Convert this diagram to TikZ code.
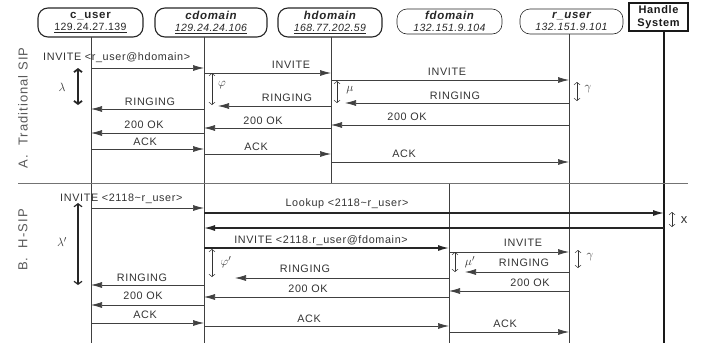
\documentclass[tikz,border=0pt]{standalone}
\usepackage{fontspec}
\setmainfont{Liberation Sans}
\newfontfamily\labfont[LetterSpace=6]{Liberation Sans}
\newfontfamily\ipfont[LetterSpace=4]{Liberation Sans}
\newfontfamily\hdrfont[LetterSpace=6]{Liberation Sans}
\newfontfamily\sectfont[LetterSpace=8]{Liberation Sans}
\usetikzlibrary{arrows.meta}
\begin{document}
\begin{tikzpicture}[x=1pt,y=-1pt,
  hdr/.style={draw=black!85, rounded corners=10pt, line width=1.1pt, align=center, inner sep=0pt,
     font=\fontsize{11}{12.5}\selectfont, text=black!85},
  hdrthin/.style={hdr, line width=0.6pt},
  hsbox/.style={draw=black!90, line width=1.3pt, align=center, inner sep=0pt,
     font=\hdrfont\fontsize{11}{12.5}\selectfont\bfseries, text=black!90},
  life/.style={draw=black!75, line width=0.6pt},
  lifebold/.style={draw=black!90, line width=1.3pt},
  msg/.style={draw=black!75, line width=0.7pt, -{Latex[length=11pt,width=6pt]}},
  bmsg/.style={draw=black!85, line width=1.3pt, -{Latex[length=11pt,width=6pt]}},
  lab/.style={font=\labfont\fontsize{10.8}{12}\selectfont, text=black!80, inner sep=0pt},
  sect/.style={font=\sectfont\fontsize{13}{15}\selectfont, text=black!65, inner sep=0pt, rotate=90},
  dbl/.style={draw=black!80, line width=0.5pt, {Straight Barb[length=2.5pt,width=6pt]}-{Straight Barb[length=2.5pt,width=6pt]}},
  bigdbl/.style={draw=black!85, line width=1.8pt, {Straight Barb[length=3pt,width=8pt]}-{Straight Barb[length=3pt,width=8pt]}},
  meddbl/.style={draw=black!85, line width=1.2pt, {Straight Barb[length=3pt,width=8pt]}-{Straight Barb[length=3pt,width=8pt]}},
  sym/.style={inner sep=0pt, text=black!80, font=\fontsize{13}{14}\selectfont},
  divline/.style={draw=black!55, line width=0.8pt}
]
\useasboundingbox (0,0) rectangle (713,343);

% headers
\newcommand\hname[1]{{\hdrfont\fontsize{11.5}{12.5}\selectfont\bfseries #1}}
\newcommand\hip[1]{{\ipfont\fontsize{10.5}{12.5}\selectfont #1}}
\node[hdr, minimum width=105pt, minimum height=29pt] (hcu) at (90.5,22.5)
  {\hname{c\_user}\\\hip{\underline{129.24.27.139}}};
\node[hdr, minimum width=112pt, minimum height=29pt] (hcd) at (211,22.5)
  {\hname{\itshape cdomain}\\\hip{\itshape\underline{129.24.24.106}}};
\node[hdr, minimum width=104pt, minimum height=29pt] (hhd) at (330,22.5)
  {\hname{\itshape hdomain}\\\hip{\itshape\underline{168.77.202.59}}};
\node[hdrthin, minimum width=105pt, minimum height=25pt] (hfd) at (449.5,21.5)
  {\hname{\itshape fdomain}\\\hip{\itshape 132.151.9.104}};
\node[hdrthin, minimum width=103pt, minimum height=25pt] (hru) at (571.5,21.5)
  {\hname{\itshape r\_user}\\\hip{\itshape 132.151.9.101}};
\node[hsbox, minimum width=59pt, minimum height=28pt] (hhs) at (658.5,17)
  {Handle\\System};

% lifelines
\coordinate (cu) at (91,37);
\coordinate (cd) at (204,37);
\coordinate (hd) at (331,37);
\coordinate (fd) at (449,183);
\coordinate (ru) at (569,34);
\coordinate (hs) at (664,31);
\draw[life] (cu) -- (cu |- 0,343);
\draw[life] (cd) -- (cd |- 0,343);
\draw[life] (hd) -- (hd |- 0,183);
\draw[life] (fd) -- (fd |- 0,343);
\draw[life] (ru) -- (ru |- 0,343);
\draw[lifebold] (hs) -- (hs |- 0,343);

% divider
\coordinate (dl) at (18,183);
\coordinate (dr) at (688,183);
\draw[divline] (dl) -- (dr);

% section labels
\node[sect] (secA) at (23,108) {A.\ \ Traditional SIP};
\node[sect] (secB) at (23,240) {B.\ \ H-SIP};

% ---------- Section A ----------
\draw[msg] (cu |- 0,68) -- (cd |- 0,68);
\node[lab, anchor=west] (la1) at (43,58) {INVITE <r\_user@hdomain>};
\draw[msg] (cd |- 0,73) -- (hd |- 0,73);
\node[lab] (la2) at (291,65) {INVITE};
\draw[msg] (hd |- 0,80) -- (ru |- 0,80);
\node[lab] (la3) at (447,72) {INVITE};

\coordinate (ringA1) at (345,103);
\draw[msg] (ru |- 0,103) -- (ringA1);
\node[lab] (la4) at (455,96) {RINGING};
\coordinate (ringA2) at (218,106);
\draw[msg] (hd |- 0,106) -- (ringA2);
\node[lab] (la5) at (287,98) {RINGING};
\draw[msg] (cd |- 0,109) -- (cu |- 0,109);
\node[lab] (la6) at (150,102) {RINGING};

\draw[msg] (ru |- 0,125) -- (hd |- 0,125);
\node[lab] (la7) at (407,117) {200 OK};
\draw[msg] (hd |- 0,128) -- (cd |- 0,128);
\node[lab] (la8) at (263,121) {200 OK};
\draw[msg] (cd |- 0,133) -- (cu |- 0,133);
\node[lab] (la9) at (144,125) {200 OK};

\draw[msg] (cu |- 0,149) -- (cd |- 0,149);
\node[lab] (la10) at (145,142) {ACK};
\draw[msg] (cd |- 0,154) -- (hd |- 0,154);
\node[lab] (la11) at (256,147) {ACK};
\draw[msg] (hd |- 0,162) -- (ru |- 0,162);
\node[lab] (la12) at (404,154) {ACK};

% annotations A
\coordinate (lamT) at (78,68); \coordinate (lamB) at (78,105);
\draw[bigdbl] (lamT) -- (lamB);
\node[sym] (lam) at (62,87) {$\lambda$};
\coordinate (phT) at (212,73); \coordinate (phB) at (212,105);
\draw[dbl] (phT) -- (phB);
\node[sym] (phi) at (222,85) {$\varphi$};
\coordinate (muT) at (337,81); \coordinate (muB) at (337,103);
\draw[dbl] (muT) -- (muB);
\node[sym] (mu) at (350,90) {$\mu$};
\coordinate (gaT) at (577,82); \coordinate (gaB) at (577,101);
\draw[dbl] (gaT) -- (gaB);
\node[sym] (ga) at (588,89) {$\gamma$};

% ---------- Section B ----------
\draw[msg] (cu |- 0,208) -- (cd |- 0,208);
\node[lab, anchor=west] (lb1) at (60,199) {INVITE <2118\char`\~r\_user>};
\draw[bmsg] (cd |- 0,213) -- (hs |- 0,213);
\node[lab] (lb2) at (347,204) {Lookup <2118\char`\~r\_user>};
\draw[bmsg] (hs |- 0,228) -- (cd |- 0,228);
\draw[bmsg] (cd |- 0,248) -- (fd |- 0,248);
\node[lab] (lb3) at (321,241) {INVITE <2118.r\_user@fdomain>};
\draw[msg] (fd |- 0,252) -- (ru |- 0,252);
\node[lab] (lb4) at (523,243) {INVITE};

\coordinate (ringB1) at (465,272);
\draw[msg] (ru |- 0,272) -- (ringB1);
\node[lab] (lb5) at (524,263) {RINGING};
\coordinate (ringB2) at (235,278);
\draw[msg] (fd |- 0,278) -- (ringB2);
\node[lab] (lb6) at (305,269) {RINGING};
\draw[msg] (cd |- 0,285) -- (cu |- 0,285);
\node[lab] (lb7) at (142,278) {RINGING};

\draw[msg] (ru |- 0,291) -- (fd |- 0,291);
\node[lab] (lb8) at (530,283) {200 OK};
\draw[msg] (fd |- 0,297) -- (cd |- 0,297);
\node[lab] (lb9) at (308,289) {200 OK};
\draw[msg] (cd |- 0,305) -- (cu |- 0,305);
\node[lab] (lb10) at (143,296) {200 OK};

\draw[msg] (cu |- 0,323) -- (cd |- 0,323);
\node[lab] (lb11) at (145,315) {ACK};
\draw[msg] (cd |- 0,326) -- (fd |- 0,326);
\node[lab] (lb12) at (309,319) {ACK};
\draw[msg] (fd |- 0,332) -- (ru |- 0,332);
\node[lab] (lb13) at (505,324) {ACK};

% annotations B
\coordinate (xT) at (672,212); \coordinate (xB) at (672,227);
\draw[dbl] (xT) -- (xB);
\node[sym] (xx) at (684,220) {x};
\coordinate (lam2T) at (78,203); \coordinate (lam2B) at (78,285);
\draw[meddbl] (lam2T) -- (lam2B);
\node[sym] (lam2) at (62,242) {$\lambda'$};
\coordinate (ph2T) at (212,249); \coordinate (ph2B) at (212,277);
\draw[dbl] (ph2T) -- (ph2B);
\node[sym] (phi2) at (226,262) {$\varphi'$};
\coordinate (mu2T) at (455,252); \coordinate (mu2B) at (455,272);
\draw[dbl] (mu2T) -- (mu2B);
\node[sym] (mu2) at (470,262) {$\mu'$};
\coordinate (ga2T) at (578,250); \coordinate (ga2B) at (578,268);
\draw[dbl] (ga2T) -- (ga2B);
\node[sym] (ga2) at (590,257) {$\gamma$};
\end{tikzpicture}
\end{document}
